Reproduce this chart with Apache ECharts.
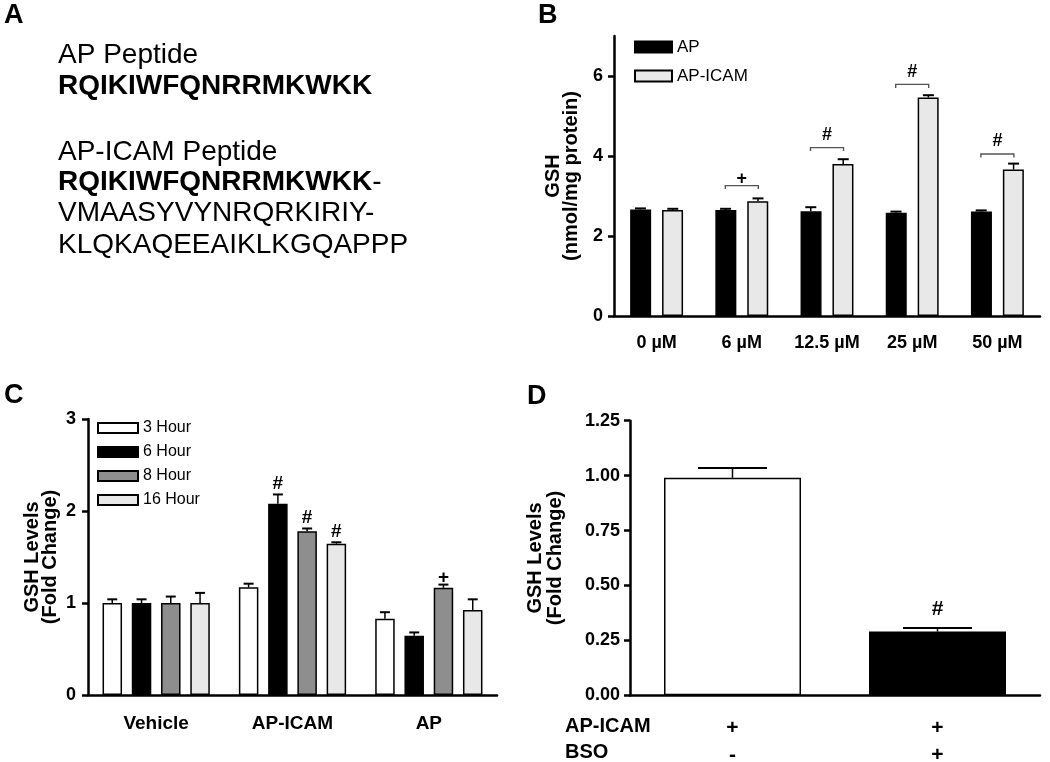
<!DOCTYPE html>
<html>
<head>
<meta charset="utf-8">
<script src="https://cdn.jsdelivr.net/npm/echarts@6/dist/echarts.min.js"></script>
<style>
  html, body { margin: 0; padding: 0; background: #fff; }
  #chart { width: 1050px; height: 762px; }
</style>
</head>
<body>
<div id="chart"></div>
<script>
// panel B: GSH after 24h with peptide concentrations
const concLabels = ['0 µM', '6 µM', '12.5 µM', '25 µM', '50 µM']
const apValues = [2.66, 2.65, 2.62, 2.58, 2.61]
const apErrTop = [2.69, 2.68, 2.72, 2.61, 2.64]
const apIcamValues = [2.65, 2.87, 3.80, 5.46, 3.66]
const apIcamErrTop = [2.68, 2.94, 3.92, 5.52, 3.81]
const bYTicks = [0, 2, 4, 6]
// [category, bracket level, mark]
const bSig = [[1, 3.26, '+'], [2, 4.21, '#'], [3, 5.79, '#'], [4, 4.05, '#']]

// panel C: time course
const treatLabels = ['Vehicle', 'AP-ICAM', 'AP']
const hourNames = ['3 Hour', '6 Hour', '8 Hour', '16 Hour']
const h3 = [1.00, 1.17, 0.83]
const h3ErrTop = [1.04, 1.21, 0.90]
const h6 = [1.00, 2.08, 0.645]
const h6ErrTop = [1.04, 2.18, 0.68]
const h8 = [1.00, 1.78, 1.165]
const h8ErrTop = [1.07, 1.81, 1.20]
const h16 = [1.00, 1.645, 0.925]
const h16ErrTop = [1.11, 1.66, 1.04]
// [category, series index, mark]
const cSig = [[1, 1, '#'], [1, 2, '#'], [1, 3, '#'], [2, 2, '+']]

// panel D: BSO
const dApIcam = ['+', '+']
const dBso = ['-', '+']
const dValues = [0.99, 0.29]
const dErrTop = [1.035, 0.306]
const dSig = [[1, '#']]

const FONT = '"Liberation Sans", Arial, Helvetica, sans-serif'
const black = '#000'

const cValues = [h3, h6, h8, h16]
const cErrTops = [h3ErrTop, h6ErrTop, h8ErrTop, h16ErrTop]
const cColors = ['#ffffff', '#000000', '#8e8e8e', '#e8e8e8']
const cOffsets = [-43.9, -14.6, 14.6, 43.9]
const dColors = ['#ffffff', '#000000']

const axisLine = { lineStyle: { color: black, width: 2.5 } }
const axisTick = { length: 6, lineStyle: { color: black, width: 2.5 } }

// error bar (upper half only)
function errSeries(gi, vals, tops, offset, capHalf) {
  return {
    type: 'custom',
    xAxisIndex: gi,
    yAxisIndex: gi,
    z: 5,
    silent: true,
    data: vals.map((v, i) => [i, v, tops[i]]),
    renderItem: (params, api) => {
      const base = api.coord([api.value(0), api.value(1)])
      const top = api.coord([api.value(0), api.value(2)])
      const x = base[0] + offset
      return {
        type: 'group',
        children: [
          { type: 'line', shape: { x1: x, y1: base[1], x2: x, y2: top[1] }, style: { stroke: black, lineWidth: 1.5 } },
          { type: 'line', shape: { x1: x - capHalf, y1: top[1], x2: x + capHalf, y2: top[1] }, style: { stroke: black, lineWidth: 2 } },
        ],
      }
    },
  }
}

const series = []

// B bars
series.push({
  name: 'AP', type: 'bar', xAxisIndex: 0, yAxisIndex: 0, data: apValues,
  barWidth: 21, barGap: '52%',
  itemStyle: { color: black, borderColor: black, borderWidth: 1.5 },
})
series.push({
  name: 'AP-ICAM', type: 'bar', xAxisIndex: 0, yAxisIndex: 0, data: apIcamValues,
  barWidth: 21, barGap: '52%',
  itemStyle: { color: '#e8e8e8', borderColor: black, borderWidth: 1.5 },
})
series.push(errSeries(0, apValues, apErrTop, -16.2, 5.5))
series.push(errSeries(0, apIcamValues, apIcamErrTop, 16.2, 5.5))
// B significance brackets
series.push({
  type: 'custom', xAxisIndex: 0, yAxisIndex: 0, z: 6, silent: true,
  data: bSig,
  renderItem: (params, api) => {
    const p = api.coord([api.value(0), api.value(1)])
    const mark = bSig[params.dataIndex][2]
    const x1 = p[0] - 16.5
    const x2 = p[0] + 16.5
    return {
      type: 'group',
      children: [
        { type: 'polyline', shape: { points: [[x1, p[1] + 3.5], [x1, p[1]], [x2, p[1]], [x2, p[1] + 3.5]] },
          style: { stroke: '#555', lineWidth: 1.4, fill: null } },
        { type: 'text', x: p[0], y: p[1] - (mark === '+' ? 7 : 12.5),
          style: { text: mark, font: 'bold 18px ' + FONT, fill: black, align: 'center', verticalAlign: 'middle' } },
      ],
    }
  },
})

// C bars
hourNames.forEach((name, si) => {
  series.push({
    name, type: 'bar', xAxisIndex: 1, yAxisIndex: 1, data: cValues[si],
    barWidth: 19.5, barGap: '50%',
    itemStyle: { color: cColors[si], borderColor: black, borderWidth: 1.5 },
  })
})
hourNames.forEach((name, si) => {
  series.push(errSeries(1, cValues[si], cErrTops[si], cOffsets[si], 5))
})
series.push({
  type: 'custom', xAxisIndex: 1, yAxisIndex: 1, z: 6, silent: true,
  data: cSig.map((s) => [s[0], cErrTops[s[1]][s[0]]]),
  renderItem: (params, api) => {
    const p = api.coord([api.value(0), api.value(1)])
    const s = cSig[params.dataIndex]
    return {
      type: 'text', x: p[0] + cOffsets[s[1]], y: p[1] - (s[2] === '+' ? 7 : 11),
      style: { text: s[2], font: 'bold 19px ' + FONT, fill: black, align: 'center', verticalAlign: 'middle' },
    }
  },
})

// D bars
series.push({
  name: 'BSO', type: 'bar', xAxisIndex: 2, yAxisIndex: 2,
  data: dValues.map((v, i) => ({ value: v, itemStyle: { color: dColors[i] } })),
  barWidth: 137,
  itemStyle: { borderColor: black, borderWidth: 1.5 },
})
series.push(errSeries(2, dValues, dErrTop, 0, 34.5))
series.push({
  type: 'custom', xAxisIndex: 2, yAxisIndex: 2, z: 6, silent: true,
  data: dSig.map((s) => [s[0], dErrTop[s[0]]]),
  renderItem: (params, api) => {
    const p = api.coord([api.value(0), api.value(1)])
    return {
      type: 'text', x: p[0], y: p[1] - 19,
      style: { text: dSig[params.dataIndex][1], font: 'bold 21px ' + FONT, fill: black, align: 'center', verticalAlign: 'middle' },
    }
  },
})

const boldLabel = (size, margin) => ({ color: black, fontWeight: 'bold', fontSize: size, fontFamily: FONT, margin })
const yName = (gap, lh) => ({
  nameLocation: 'middle', nameRotate: 90, nameGap: gap,
  nameTextStyle: { color: black, fontWeight: 'bold', fontSize: 20, fontFamily: FONT, lineHeight: lh, align: 'center' },
})

const option = {
  animation: false,
  backgroundColor: '#fff',
  textStyle: { fontFamily: FONT },
  grid: [
    { left: 614, top: 36, width: 426, height: 280, outerBoundsMode: 'none' },
    { left: 88, top: 419, width: 409, height: 276, outerBoundsMode: 'none' },
    { left: 630, top: 420.7, width: 410, height: 274.6, outerBoundsMode: 'none' },
  ],
  legend: [
    {
      data: ['AP', 'AP-ICAM'], orient: 'vertical', left: 634, top: 38, padding: 0,
      icon: 'rect', itemWidth: 37, itemHeight: 11, itemGap: 11, selectedMode: false,
      textStyle: { color: black, fontSize: 17, lineHeight: 18, fontFamily: FONT },
    },
    {
      data: hourNames, orient: 'vertical', left: 97, top: 420, padding: 0,
      icon: 'rect', itemWidth: 40, itemHeight: 10, itemGap: 8, selectedMode: false,
      textStyle: { color: black, fontSize: 16, lineHeight: 16, fontFamily: FONT },
    },
  ],
  xAxis: [
    {
      gridIndex: 0, type: 'category', data: concLabels,
      axisLine, axisTick: { ...axisTick, alignWithLabel: true },
      axisLabel: { ...boldLabel(18, 18), interval: 0, hideOverlap: false },
    },
    {
      gridIndex: 1, type: 'category', data: treatLabels,
      axisLine, axisTick: { ...axisTick, alignWithLabel: true },
      axisLabel: { ...boldLabel(19, 19), interval: 0 },
    },
    {
      gridIndex: 2, type: 'category', data: dApIcam,
      axisLine, axisTick: { show: false },
      axisLabel: {
        ...boldLabel(21, 19), lineHeight: 27, interval: 0,
        formatter: (v, i) => dApIcam[i] + '\n' + dBso[i],
      },
    },
  ],
  yAxis: [
    {
      gridIndex: 0, type: 'value', min: 0, max: 7,
      name: 'GSH\n(nmol/mg protein)', ...yName(34, 18),
      axisLine: { show: true, ...axisLine },
      axisTick: { show: true, ...axisTick, customValues: bYTicks },
      axisLabel: { ...boldLabel(18, 11), customValues: bYTicks },
      splitLine: { show: false },
    },
    {
      gridIndex: 1, type: 'value', min: 0, max: 3, interval: 1,
      name: 'GSH Levels\n(Fold Change)', ...yName(29, 18),
      axisLine: { show: true, ...axisLine },
      axisTick: { show: true, ...axisTick },
      axisLabel: boldLabel(18, 12),
      splitLine: { show: false },
    },
    {
      gridIndex: 2, type: 'value', min: 0, max: 1.25, interval: 0.25,
      name: 'GSH Levels\n(Fold Change)', ...yName(65, 20),
      axisLine: { show: true, ...axisLine },
      axisTick: { show: true, ...axisTick },
      axisLabel: { ...boldLabel(18, 10), formatter: (v) => v.toFixed(2) },
      splitLine: { show: false },
    },
  ],
  graphic: [
    // panel letters
    { type: 'text', x: 4, y: 16, style: { text: 'A', font: 'bold 27px ' + FONT, fill: black, verticalAlign: 'middle' } },
    { type: 'text', x: 538, y: 16, style: { text: 'B', font: 'bold 27px ' + FONT, fill: black, verticalAlign: 'middle' } },
    { type: 'text', x: 4, y: 396, style: { text: 'C', font: 'bold 27px ' + FONT, fill: black, verticalAlign: 'middle' } },
    { type: 'text', x: 527, y: 397, style: { text: 'D', font: 'bold 27px ' + FONT, fill: black, verticalAlign: 'middle' } },
    // panel A sequences
    { type: 'text', x: 58, y: 55, style: { text: 'AP Peptide', font: '28px ' + FONT, fill: black, verticalAlign: 'middle' } },
    { type: 'text', x: 58, y: 86, style: { text: 'RQIKIWFQNRRMKWKK', font: 'bold 28px ' + FONT, fill: black, verticalAlign: 'middle' } },
    { type: 'text', x: 58, y: 152, style: { text: 'AP-ICAM Peptide', font: '28px ' + FONT, fill: black, verticalAlign: 'middle' } },
    {
      type: 'text', x: 58, y: 182,
      style: {
        text: '{b|RQIKIWFQNRRMKWKK}{n|-}', fill: black, verticalAlign: 'middle',
        rich: {
          b: { fontWeight: 'bold', fontSize: 28, fontFamily: FONT, fill: black },
          n: { fontSize: 28, fontFamily: FONT, fill: black },
        },
      },
    },
    { type: 'text', x: 58, y: 213, style: { text: 'VMAASYVYNRQRKIRIY-', font: '28px ' + FONT, fill: black, verticalAlign: 'middle' } },
    { type: 'text', x: 58, y: 245, style: { text: 'KLQKAQEEAIKLKGQAPPP', font: '28px ' + FONT, fill: black, verticalAlign: 'middle' } },
    // panel D row labels
    { type: 'text', x: 565, y: 726, style: { text: 'AP-ICAM', font: 'bold 20px ' + FONT, fill: black, verticalAlign: 'middle' } },
    { type: 'text', x: 565, y: 752, style: { text: 'BSO', font: 'bold 20px ' + FONT, fill: black, verticalAlign: 'middle' } },
  ],
  series,
}

const chart = echarts.init(document.getElementById('chart'))
chart.setOption(option)
window.addEventListener('resize', () => {
  chart.resize()
})
</script>
</body>
</html>
